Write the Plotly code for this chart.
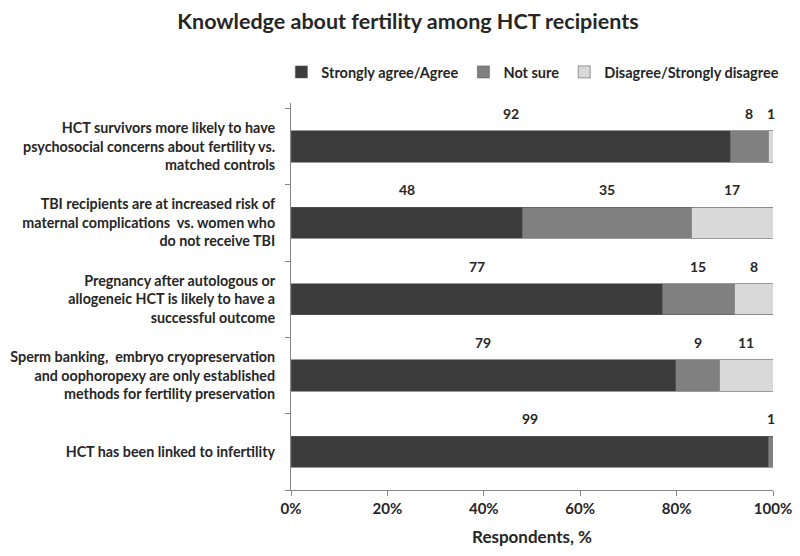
import plotly.graph_objects as go

categories = [
    "HCT survivors more likely to have<br>psychosocial concerns about fertility vs.<br>matched controls",
    "TBI recipients are at increased risk of<br>maternal complications  vs. women who<br>do not receive TBI",
    "Pregnancy after autologous or<br>allogeneic HCT is likely to have a<br>successful outcome",
    "Sperm banking,  embryo cryopreservation<br>and oophoropexy are only established<br>methods for fertility preservation",
    "HCT has been linked to infertility",
]
series_names = ["Strongly agree/Agree", "Not sure", "Disagree/Strongly disagree"]
agree = [92, 48, 77, 79, 99]
not_sure = [8, 35, 15, 9, 1]
disagree = [1, 17, 8, 11, 0]
x_ticks = [0, 20, 40, 60, 80, 100]
x_tick_labels = ["0%", "20%", "40%", "60%", "80%", "100%"]

colors = ["#3c3c3c", "#808080", "#d9d9d9"]
series = [agree, not_sure, disagree]
FONT = "Lato"
TXT = "#262626"

fig = go.Figure()
for name, vals, col in zip(series_names, series, colors):
    fig.add_trace(go.Bar(
        y=categories, x=vals, name=name, orientation="h",
        marker=dict(color=col, line=dict(color="#595959", width=0.6)),
        hoverinfo="x+name",
    ))

annotations = []
for i, cat in enumerate(categories):
    total = sum(s[i] for s in series)
    cum = 0
    for s in series:
        v = s[i]
        if v > 0:
            annotations.append(dict(
                x=(cum + v / 2) / total * 100, y=cat, xref="x", yref="y",
                text=str(v), showarrow=False, yshift=33,
                font=dict(family=FONT, size=14, color=TXT, weight="bold"),
            ))
        cum += v

fig.update_layout(
    width=800, height=556,
    barmode="stack", barnorm="percent", bargap=0.59,
    plot_bgcolor="white", paper_bgcolor="white",
    margin=dict(l=291, r=27, t=103, b=66, autoexpand=False),
    title=dict(text="<b>Knowledge about fertility among HCT recipients</b>",
               x=408 / 800, xanchor="center", y=1 - 21 / 556, yanchor="middle",
               font=dict(family=FONT, size=21.5, color=TXT)),
    legend=dict(orientation="h", x=-0.02, xanchor="left", y=1 + 31 / 387, yanchor="middle",
                font=dict(family=FONT, size=14.5, color=TXT, weight="bold"),
                traceorder="normal", itemclick=False, itemwidth=30),
    font=dict(family=FONT, color=TXT),
    annotations=annotations,
)
fig.update_xaxes(
    range=[0, 100], tickvals=x_ticks, ticktext=x_tick_labels,
    ticks="outside", ticklen=5, tickcolor="#868686",
    showline=True, linecolor="#868686", showgrid=False, zeroline=False,
    tickfont=dict(family=FONT, size=15, color=TXT, weight="bold"),
    title=dict(text="<b>Respondents, %</b>", font=dict(family=FONT, size=17, color=TXT), standoff=15),
)
fig.update_yaxes(
    categoryorder="array", categoryarray=categories[::-1],
    ticks="outside", ticklen=5, tickcolor="#868686", tickson="boundaries",
    showline=True, linecolor="#868686", showgrid=False,
    tickfont=dict(family=FONT, size=14.3, color=TXT, weight="bold"),
    ticklabelstandoff=12,
)
fig.write_html("out.html", config={"displayModeBar": False},
               post_script="document.body.style.margin='0';")
